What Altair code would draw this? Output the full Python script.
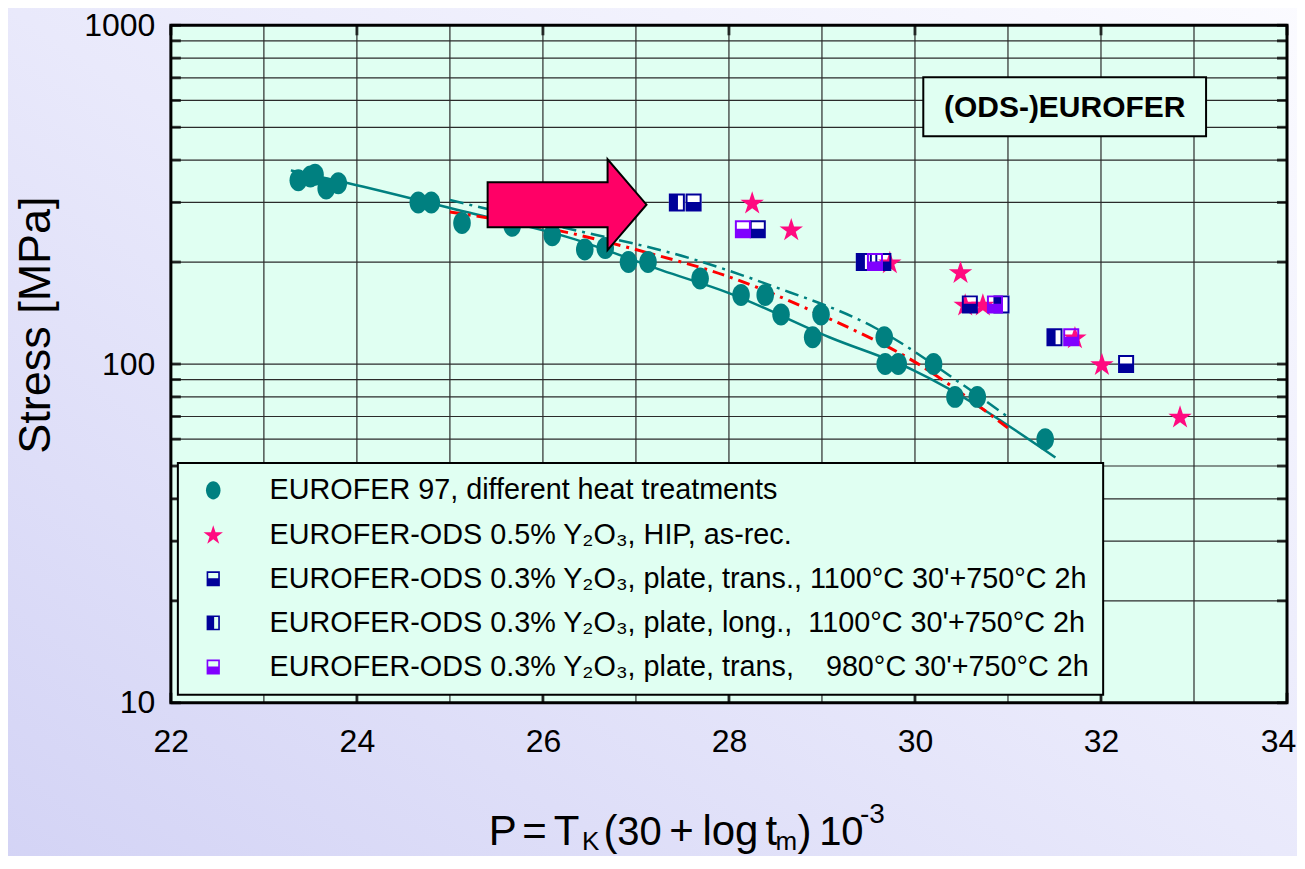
import altair as alt
import pandas as pd

# ---------------- data ----------------
eurofer_P = [23.37, 23.50, 23.55, 23.67, 23.80, 24.66, 24.80, 25.13, 25.67, 26.10, 26.45, 26.67,
             26.92, 27.13, 27.69, 28.13, 28.39, 28.56, 28.90, 28.99, 29.67, 29.68, 29.82, 30.20,
             30.43, 30.67, 31.40]
eurofer_S = [349, 358, 362, 330, 342, 300, 300, 261, 256, 240, 218, 220,
             200, 200, 179, 160, 160, 140, 120, 140, 120, 100, 100, 100,
             80, 80, 60]

hip_P = [28.25, 28.67, 29.73, 30.49, 30.54, 30.73, 31.72, 32.01, 32.85]
hip_S = [300, 250, 200, 187, 150, 150, 120, 100, 70]

trans1100_P = [27.62, 28.31, 29.66, 30.59, 32.27]
trans1100_S = [300, 250, 200, 150, 100]

long1100_P = [27.44, 29.45, 30.93, 31.50]
long1100_S = [300, 200, 150, 120]

trans980_P = [28.15, 29.57, 30.86, 31.68]
trans980_S = [250, 200, 150, 120]

fit_solid_P = [23.29, 23.91, 25.13, 26.31, 27.28, 28.00, 29.08, 29.98, 31.51]
fit_solid_S = [373, 342, 283, 235, 189, 162, 120, 96, 53]

fit_ods_P = [25.0, 26.2, 27.64, 28.44, 29.57, 30.55, 31.0]
fit_ods_S = [305, 254, 203, 171, 128, 85.5, 69.8]

fit_red_P = [25.0, 26.31, 27.10, 28.0, 28.98, 30.01, 31.0]
fit_red_S = [281, 243, 214, 181, 140, 101, 64.7]

x_grid = list(range(22, 35))
x_labels = [22, 24, 26, 28, 30, 32, 34]
y_grid = [10, 20, 30, 40, 50, 60, 70, 80, 90,
          100, 200, 300, 400, 500, 600, 700, 800, 900, 1000]
y_labels = [10, 100, 1000]

NB = "\u00a0"
S_E97 = "EUROFER 97, different heat treatments"
S_HIP = "EUROFER-ODS 0.5% Y₂O₃, HIP, as-rec."
S_T1100 = "EUROFER-ODS 0.3% Y₂O₃, plate, trans., 1100°C 30'+750°C 2h"
S_L1100 = "EUROFER-ODS 0.3% Y₂O₃, plate, long.," + NB * 2 + "1100°C 30'+750°C 2h"
S_T980 = "EUROFER-ODS 0.3% Y₂O₃, plate, trans," + NB * 4 + "980°C 30'+750°C 2h"
series_order = [S_E97, S_HIP, S_T1100, S_L1100, S_T980]

# ---------------- styling ----------------
W, H = 1117, 678
FONT = "Liberation Sans, Arial, sans-serif"
TEAL = "#008080"
PINK = "#FF0A80"
NAVY = "#000099"
PURPLE = "#8000FF"
MINT = "#E0FFF2"

ELLIPSE = "M0,-1 A0.8,1 0 1,1 0,1 A0.8,1 0 1,1 0,-1 Z"
STAR = ("M0,-1.02 L0.2514,-0.246 L1.065,-0.246 L0.4066,0.232 L0.6586,1.006 L0,0.528 "
        "L-0.6586,1.006 L-0.4066,0.232 L-1.065,-0.246 L-0.2514,-0.246 Z")
OUTER = "M-0.73,-0.82 L0.73,-0.82 L0.73,0.82 L-0.73,0.82 Z "
SQ_TRANS = OUTER + "M-0.55,-0.64 L-0.55,-0.05 L0.55,-0.05 L0.55,-0.64 Z"
SQ_LONG = OUTER + "M0.1,-0.64 L0.1,0.64 L0.55,0.64 L0.55,-0.64 Z"
ARROW = "M-1,-0.283 L0.51,-0.283 L0.51,-0.572 L1,0 L0.51,0.572 L0.51,0.283 L-1,0.283 Z"

shape_range = [ELLIPSE, STAR, SQ_TRANS, SQ_LONG, SQ_TRANS]
fill_range = [TEAL, PINK, NAVY, NAVY, PURPLE]

# ---------------- tables ----------------
def frame(P, S, name=None):
    d = pd.DataFrame({"P": P, "S": S})
    if name is not None:
        d["series"] = name
    return d

pts = pd.concat([
    frame(eurofer_P, eurofer_S, S_E97),
    frame(hip_P, hip_S, S_HIP),
    frame(trans1100_P, trans1100_S, S_T1100),
    frame(long1100_P, long1100_S, S_L1100),
    frame(trans980_P, trans980_S, S_T980),
], ignore_index=True)
squares = pts[pts["series"].isin([S_T1100, S_L1100, S_T980])]

xscale = alt.Scale(domain=[22, 34], nice=False, zero=False)
yscale = alt.Scale(type="log", domain=[10, 1000], nice=False)
xaxis = alt.Axis(values=x_labels, title=None, grid=False, ticks=False, domain=False,
                 labelFont=FONT, labelFontSize=32, labelPadding=24, labelColor="black",
                 labelFlush=False, zindex=1,
                 labelOffset={"condition": {"test": "datum.value >= 34", "value": -9}, "value": 0})
yaxis = alt.Axis(values=y_labels, title=None, grid=False, ticks=False, domain=False,
                 format="d", labelFont=FONT, labelFontSize=32, labelPadding=16,
                 labelColor="black", labelFlush=False, zindex=1)
X = alt.X("P:Q", scale=xscale, axis=xaxis)
Y = alt.Y("S:Q", scale=yscale, axis=yaxis)

dummy = pd.DataFrame({"a": [0]})

# background gradient and plot fill
bg = alt.Chart(dummy).mark_rect(
    fill=alt.Gradient(gradient="linear", x1=0, y1=1, x2=1, y2=0,
                      stops=[alt.GradientStop(color="#D3D3F5", offset=0),
                             alt.GradientStop(color="#E9E9FB", offset=0.5),
                             alt.GradientStop(color="#FBFBFF", offset=1)])
).encode(x=alt.value(-171), x2=alt.value(W + 20), y=alt.value(-25), y2=alt.value(H + 170))

plotfill = alt.Chart(dummy).mark_rect(fill=MINT).encode(
    x=alt.value(0), x2=alt.value(W), y=alt.value(0), y2=alt.value(H))

vgrid = alt.Chart(pd.DataFrame({"P": x_grid})).mark_rule(color="#2b2b2b", strokeWidth=1.2).encode(x=X)
hgrid = alt.Chart(pd.DataFrame({"S": y_grid})).mark_rule(color="#2b2b2b", strokeWidth=1.2).encode(y=Y)

line_solid = alt.Chart(frame(fit_solid_P, fit_solid_S)).mark_line(
    color=TEAL, strokeWidth=2.5, interpolate="monotone").encode(x=X, y=Y)
line_ods = alt.Chart(frame(fit_ods_P, fit_ods_S)).mark_line(
    color=TEAL, strokeWidth=2.5, strokeDash=[14, 6, 3, 6], interpolate="monotone").encode(x=X, y=Y)
line_red = alt.Chart(frame(fit_red_P, fit_red_S)).mark_line(
    color="#FF0000", strokeWidth=3, strokeDash=[12, 6, 3, 6], interpolate="monotone").encode(x=X, y=Y)

under = alt.Chart(squares).mark_point(
    shape=OUTER.strip(), filled=True, fill="white", opacity=1, strokeWidth=0, size=484
).encode(x=X, y=Y)

legend = alt.Legend(orient="none", legendX=7, legendY=438, title=None,
                    fillColor=MINT, strokeColor="black", padding=13,
                    labelFont=FONT, labelFontSize=28.8, labelLimit=2000, labelColor="black",
                    labelOffset=42, symbolOffset=8, rowPadding=14.2, symbolSize=330,
                    symbolStrokeWidth=0)
points = alt.Chart(pts).mark_point(filled=True, opacity=1, strokeWidth=0, size=484).encode(
    x=X, y=Y,
    shape=alt.Shape("series:N", scale=alt.Scale(domain=series_order, range=shape_range),
                    legend=legend, sort=series_order),
    fill=alt.Fill("series:N", scale=alt.Scale(domain=series_order, range=fill_range),
                  legend=legend, sort=series_order),
)

arrow = alt.Chart(dummy).mark_point(
    shape=ARROW, filled=True, fill="#FF0066", stroke="black", strokeWidth=2,
    opacity=1, size=25281
).encode(x=alt.value(396.5), y=alt.value(179.5))

box = alt.Chart(dummy).mark_rect(fill=MINT, stroke="black", strokeWidth=2).encode(
    x=alt.value(753), x2=alt.value(1036), y=alt.value(52), y2=alt.value(111))
box_text = alt.Chart(dummy).mark_text(
    text="(ODS-)EUROFER", font=FONT, fontWeight="bold", fontSize=30, align="center",
    baseline="alphabetic", color="black").encode(x=alt.value(894.5), y=alt.value(92))

border = alt.Chart(dummy).mark_rect(fillOpacity=0, stroke="black", strokeWidth=3).encode(
    x=alt.value(0), x2=alt.value(W), y=alt.value(0), y2=alt.value(H))

ydf = pd.DataFrame({"S": y_grid})
xdf = pd.DataFrame({"P": x_labels})
tick_l = alt.Chart(ydf).mark_tick(orient="horizontal", size=10, thickness=3, color="black").encode(
    y=Y, x=alt.value(5))
tick_r = alt.Chart(ydf).mark_tick(orient="horizontal", size=10, thickness=3, color="black").encode(
    y=Y, x=alt.value(W - 5))
tick_b = alt.Chart(xdf).mark_tick(orient="vertical", size=10, thickness=3, color="black").encode(
    x=X, y=alt.value(H - 5))
tick_t = alt.Chart(xdf).mark_tick(orient="vertical", size=10, thickness=3, color="black").encode(
    x=X, y=alt.value(5))


def txt(s, x, y, size, **kw):
    props = dict(text=s, font=FONT, fontSize=size, align="center", baseline="alphabetic",
                 color="black")
    props.update(kw)
    return alt.Chart(dummy).mark_text(**props).encode(x=alt.value(x), y=alt.value(y))


OX, OY = 171, 25
BASE = 845
SUB = 850
title_parts = [
    txt("P", 503 - OX, BASE - OY, 42),
    txt("=", 535 - OX, BASE - OY, 42),
    txt("T", 567 - OX, BASE - OY, 42),
    txt("K", 591 - OX, SUB - OY, 26),
    txt("(", 611 - OX, BASE - OY, 42),
    txt("30", 640 - OX, BASE - OY, 40),
    txt("+", 682 - OX, BASE - OY, 42),
    txt("log", 731 - OX, BASE - OY, 42),
    txt("t", 772 - OX, BASE - OY, 42),
    txt("m", 787 - OX, SUB - OY, 26),
    txt(")", 805 - OX, BASE - OY, 42),
    txt("10", 842 - OX, BASE - OY, 40),
    txt("-3", 873 - OX, 823 - OY, 28),
    txt("Stress [MPa]", 36 - OX, 325 - OY, 45, angle=270, baseline="middle"),
]

chart = alt.layer(
    bg, plotfill, vgrid, hgrid, line_solid, line_ods, line_red, under, points,
    arrow, box, box_text, border, tick_l, tick_r, tick_b, tick_t, *title_parts
).properties(
    width=W, height=H,
    autosize=alt.AutoSizeParams(type="none"),
    padding={"left": 163, "top": 17, "right": 10, "bottom": 153},
    background="#E8E8FA",
).configure_view(strokeWidth=0).configure_legend(strokeWidth=2)

chart.save("out.html", embed_options={"renderer": "svg", "actions": False})
